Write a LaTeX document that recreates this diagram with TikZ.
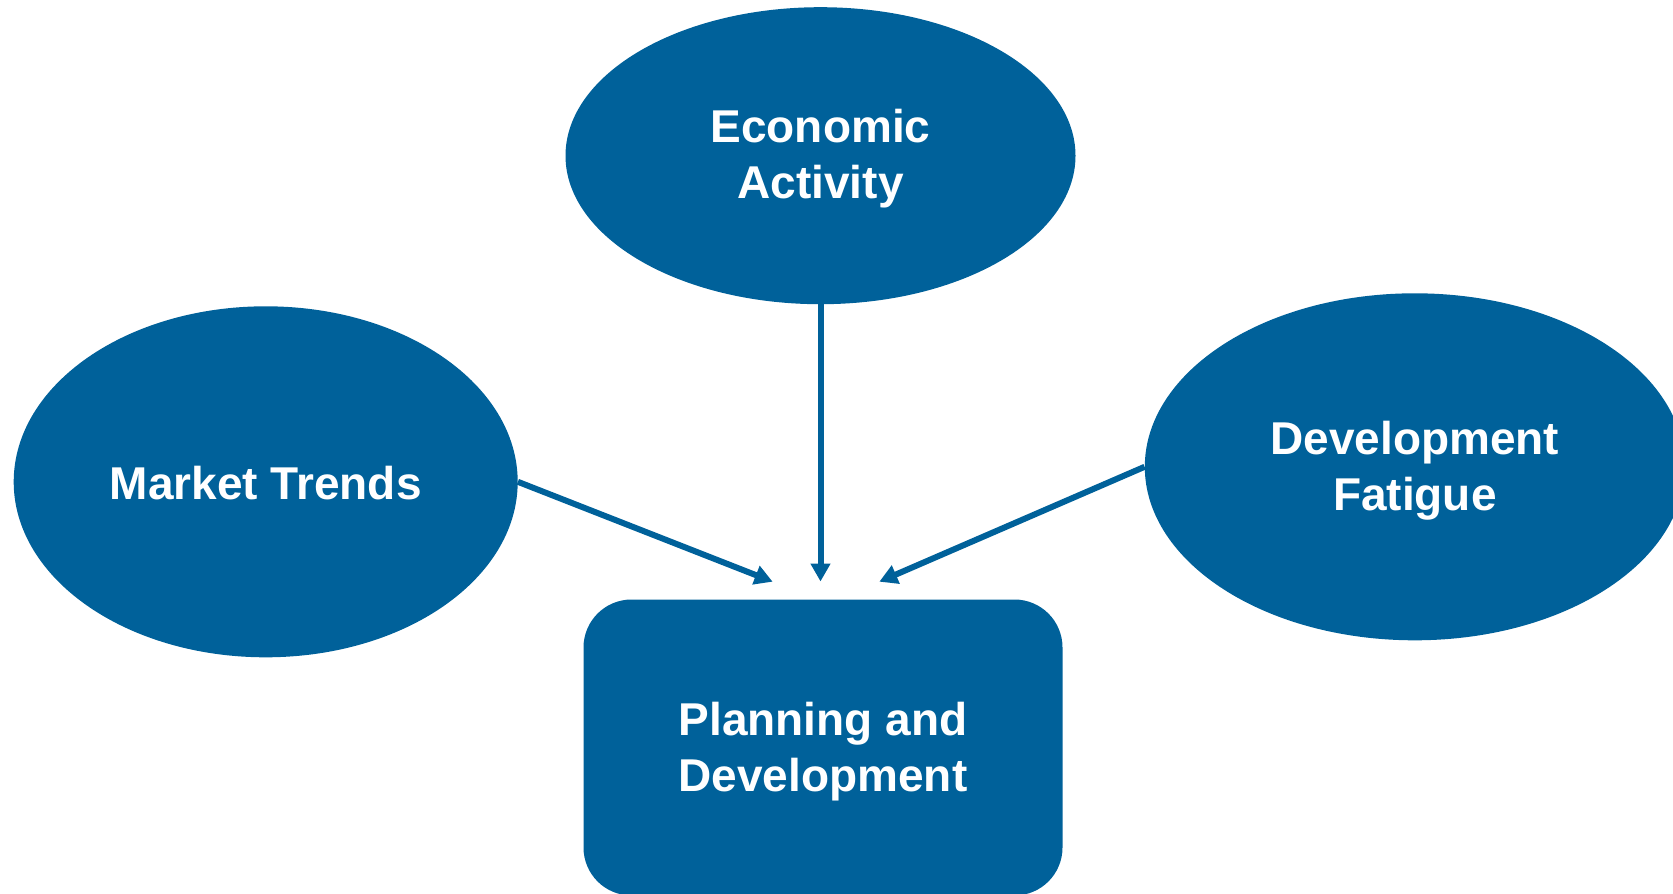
\documentclass[tikz,border=0pt]{standalone}
\usepackage{fontspec}
\setmainfont{Liberation Sans}
\usetikzlibrary{shapes.geometric,arrows.meta}
\definecolor{blu}{HTML}{00619A}
\tikzset{
  oval/.style={ellipse, fill=blu, inner sep=0pt},
  boxnode/.style={rectangle, rounded corners=48pt, fill=blu, inner sep=0pt},
  txt/.style={text=white, inner sep=0pt, align=center,
    font=\fontsize{46}{56.7}\selectfont\bfseries},
  conn/.style={draw=blu, line width=6pt, -{Triangle[length=18pt,width=19pt]}}
}
\begin{document}
\begin{tikzpicture}[x=1pt,y=-1pt]
\useasboundingbox (0,0) rectangle (1673,894);
\node[oval, minimum width=510pt, minimum height=297pt] (ea) at (820.5,155.7) {};
\node[oval, minimum width=504pt, minimum height=351pt] (mt) at (265.7,481.8) {};
\node[oval, minimum width=540pt, minimum height=347pt] (df) at (1414.8,466.8) {};
\node[boxnode, minimum width=479pt, minimum height=296pt] (pd) at (823,747.5) {};
\node[txt] (eat) at ([yshift=-3pt]ea.center) {Economic\\Activity};
\node[txt] (mtt) at ([yshift=-1pt]mt.center) {Market Trends};
\node[txt] (dft) at ([yshift=-4pt]df.center) {Development\\Fatigue};
\node[txt] (pdt) at ([yshift=-4pt]pd.center) {Planning and\\Development};
\coordinate (t1) at (772.7,581.7);
\coordinate (t2) at (820.5,581.5);
\coordinate (t3) at (879.3,581.7);
\draw[conn] (mt.east) -- (t1);
\draw[conn] (ea.south) -- (t2);
\draw[conn] (df.west) -- (t3);
\end{tikzpicture}
\end{document}
